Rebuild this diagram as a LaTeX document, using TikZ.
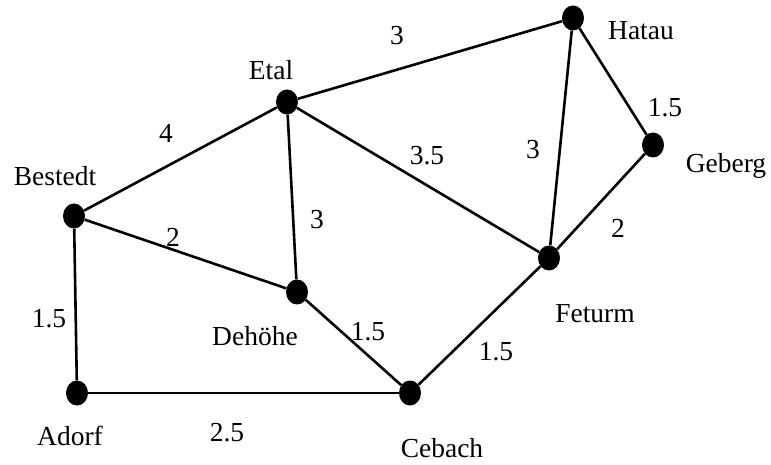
\documentclass[tikz,border=0pt]{standalone}
\usepackage{fontspec}
\setmainfont{Liberation Serif}
\usetikzlibrary{shapes.geometric}
\begin{document}
\begin{tikzpicture}[x=1pt,y=-1pt,
  town/.style={ellipse,fill=black,draw=none,minimum width=22pt,minimum height=25pt,inner sep=0pt},
  road/.style={line width=2.6pt},
  lbl/.style={anchor=base,inner sep=0pt,font=\fontsize{27.5pt}{30pt}\selectfont}]
\useasboundingbox (0,0) rectangle (771,465);
% towns
\node[town] (E) at (287,102) {};
\node[town] (H) at (573,18) {};
\node[town] (G) at (653,145) {};
\node[town] (B) at (74,216) {};
\node[town] (D) at (297,292) {};
\node[town] (F) at (549,258) {};
\node[town] (A) at (77,393) {};
\node[town] (C) at (410,393) {};
% roads
\draw[road] (B) -- (E);
\draw[road] (E) -- (H);
\draw[road] (H) -- (G);
\draw[road] (H) -- (F);
\draw[road] (G) -- (F);
\draw[road] (E) -- (F);
\draw[road] (E) -- (D);
\draw[road] (B) -- (D);
\draw[road] (B) -- (A);
\draw[road] (A) -- (C);
\draw[road] (D) -- (C);
\draw[road] (C) -- (F);
% town names
\node[lbl] (tE) at (271,80) {Etal};
\node[lbl] (tH) at (641,40) {Hatau};
\node[lbl] (tG) at (726,173) {Geberg};
\node[lbl] (tB) at (55,186) {Bestedt};
\node[lbl] (tD) at (255,345) {Dehöhe};
\node[lbl] (tF) at (595,322) {Feturm};
\node[lbl] (tA) at (70,445) {Adorf};
\node[lbl] (tC) at (442,457) {Cebach};
% distances
\node[lbl] (wEH) at (397,45) {3};
\node[lbl] (wBE) at (166,143) {4};
\node[lbl] (wEF) at (427,165) {3.5};
\node[lbl] (wED) at (317,229) {3};
\node[lbl] (wHF) at (533,159) {3};
\node[lbl] (wHG) at (665,117) {1.5};
\node[lbl] (wBD) at (173,247) {2};
\node[lbl] (wGF) at (618,237) {2};
\node[lbl] (wBA) at (49,327) {1.5};
\node[lbl] (wDC) at (368,340) {1.5};
\node[lbl] (wCF) at (496,360) {1.5};
\node[lbl] (wAC) at (227,441) {2.5};
\end{tikzpicture}
\end{document}
